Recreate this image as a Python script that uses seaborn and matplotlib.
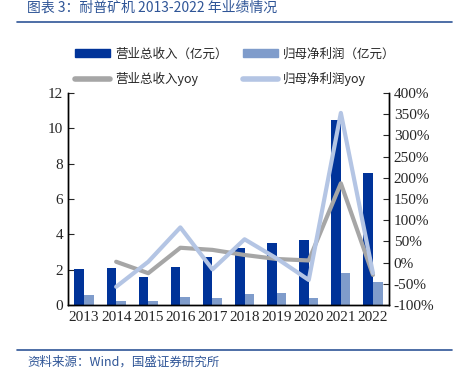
import numpy as np
import pandas as pd
import matplotlib
matplotlib.use("Agg")
import matplotlib.pyplot as plt
import seaborn as sns
from matplotlib.lines import Line2D
from matplotlib.patches import Patch

sns.set_style("white")
plt.rcParams['font.family'] = ['Liberation Serif', 'Noto Sans CJK SC', 'DejaVu Sans']

# data
years = ['2013', '2014', '2015', '2016', '2017', '2018', '2019', '2020', '2021', '2022']
revenue = [2.05, 2.09, 1.58, 2.15, 2.73, 3.24, 3.49, 3.66, 10.5, 7.47]
profit = [0.57, 0.25, 0.25, 0.47, 0.40, 0.62, 0.68, 0.40, 1.81, 1.32]
revenue_yoy = [np.nan, 2, -25, 35, 30, 18, 8.5, 5, 187, -29]
profit_yoy = [np.nan, -57, 2, 83, -16, 55, 10, -41, 353, -25]

lab_rev = '营业总收入（亿元）'
lab_pro = '归母净利润（亿元）'
lab_rev_yoy = '营业总收入yoy'
lab_pro_yoy = '归母净利润yoy'

c_rev = '#003399'
c_pro = '#7F9CCB'
c_rev_yoy = '#A6A6A6'
c_pro_yoy = '#B4C5E4'

bars = pd.DataFrame({'year': years * 2,
                     'value': revenue + profit,
                     'series': [lab_rev] * 10 + [lab_pro] * 10})
lines = pd.DataFrame({'year': years, 'rev_yoy': revenue_yoy, 'pro_yoy': profit_yoy})

fig = plt.figure(figsize=(4.57, 3.75), dpi=100)
ax = fig.add_axes([68 / 457, 1 - 305 / 375, 321 / 457, 212 / 375])

sns.barplot(data=bars, x='year', y='value', hue='series', palette=[c_rev, c_pro],
            width=0.6, gap=0, ax=ax, legend=False, saturation=1, linewidth=0)
ax.set_ylim(0, 12)
ax.set_yticks(range(0, 13, 2))
ax.set_xlim(-0.5, 9.5)
ax.set_xlabel('')
ax.set_ylabel('')
ax.set_xticks(np.arange(10))
ax.set_xticklabels(years)
ax.set_xticks(np.arange(-0.5, 10, 1), minor=True)
ax.tick_params(axis='x', which='major', length=0, labelsize=11, pad=4)
ax.tick_params(axis='x', which='minor', length=4, direction='in', color='black')
ax.tick_params(axis='y', length=4, direction='in', labelsize=11, left=True)

ax2 = ax.twinx()
x = np.arange(10)
sns.lineplot(x=x, y=lines['rev_yoy'], color=c_rev_yoy, lw=3, ax=ax2)
sns.lineplot(x=x, y=lines['pro_yoy'], color=c_pro_yoy, lw=3, ax=ax2)
ax2.set_ylim(-100, 400)
ax2.set_yticks(range(-100, 401, 50))
ax2.set_yticklabels([f'{v}%' for v in range(-100, 401, 50)])
ax2.set_ylabel('')
ax2.set_xlim(-0.5, 9.5)
ax2.tick_params(axis='y', length=4, direction='in', labelsize=11, right=True)

for a in (ax, ax2):
    a.spines['top'].set_visible(False)
    for side in ('left', 'right', 'bottom'):
        a.spines[side].set_color('black')
        a.spines[side].set_linewidth(1)

handles = [Patch(color=c_rev), Line2D([], [], color=c_rev_yoy, lw=4),
           Patch(color=c_pro), Line2D([], [], color=c_pro_yoy, lw=4)]
labels = [lab_rev, lab_rev_yoy, lab_pro, lab_pro_yoy]
fig.legend(handles, labels, ncol=2, loc='center', bbox_to_anchor=(235 / 457, 1 - 67 / 375),
           frameon=False, prop={'family': ['Noto Sans CJK SC'], 'size': 9},
           handlelength=2.8, handleheight=0.6, columnspacing=1.2, labelspacing=0.9,
           handletextpad=0.4)

fig.text(27 / 457, 1 - 8 / 375, '图表 3：耐普矿机 2013-2022 年业绩情况', color='#2F5597',
         fontsize=10, style='italic', va='center', ha='left',
         family=['Noto Sans CJK SC', 'DejaVu Sans'])
fig.add_artist(Line2D([17 / 457, 452 / 457], [1 - 22 / 375, 1 - 22 / 375],
                      color='#2F5597', lw=1.2))
fig.add_artist(Line2D([17 / 457, 452 / 457], [1 - 350 / 375, 1 - 350 / 375],
                      color='#2F5597', lw=1.2))
fig.text(27 / 457, 1 - 362 / 375, '资料来源：Wind，国盛证券研究所', color='#2F5597',
         fontsize=9, style='italic', va='center', ha='left',
         family=['Noto Sans CJK SC', 'DejaVu Sans'])

fig.savefig('out.png', dpi=100)
